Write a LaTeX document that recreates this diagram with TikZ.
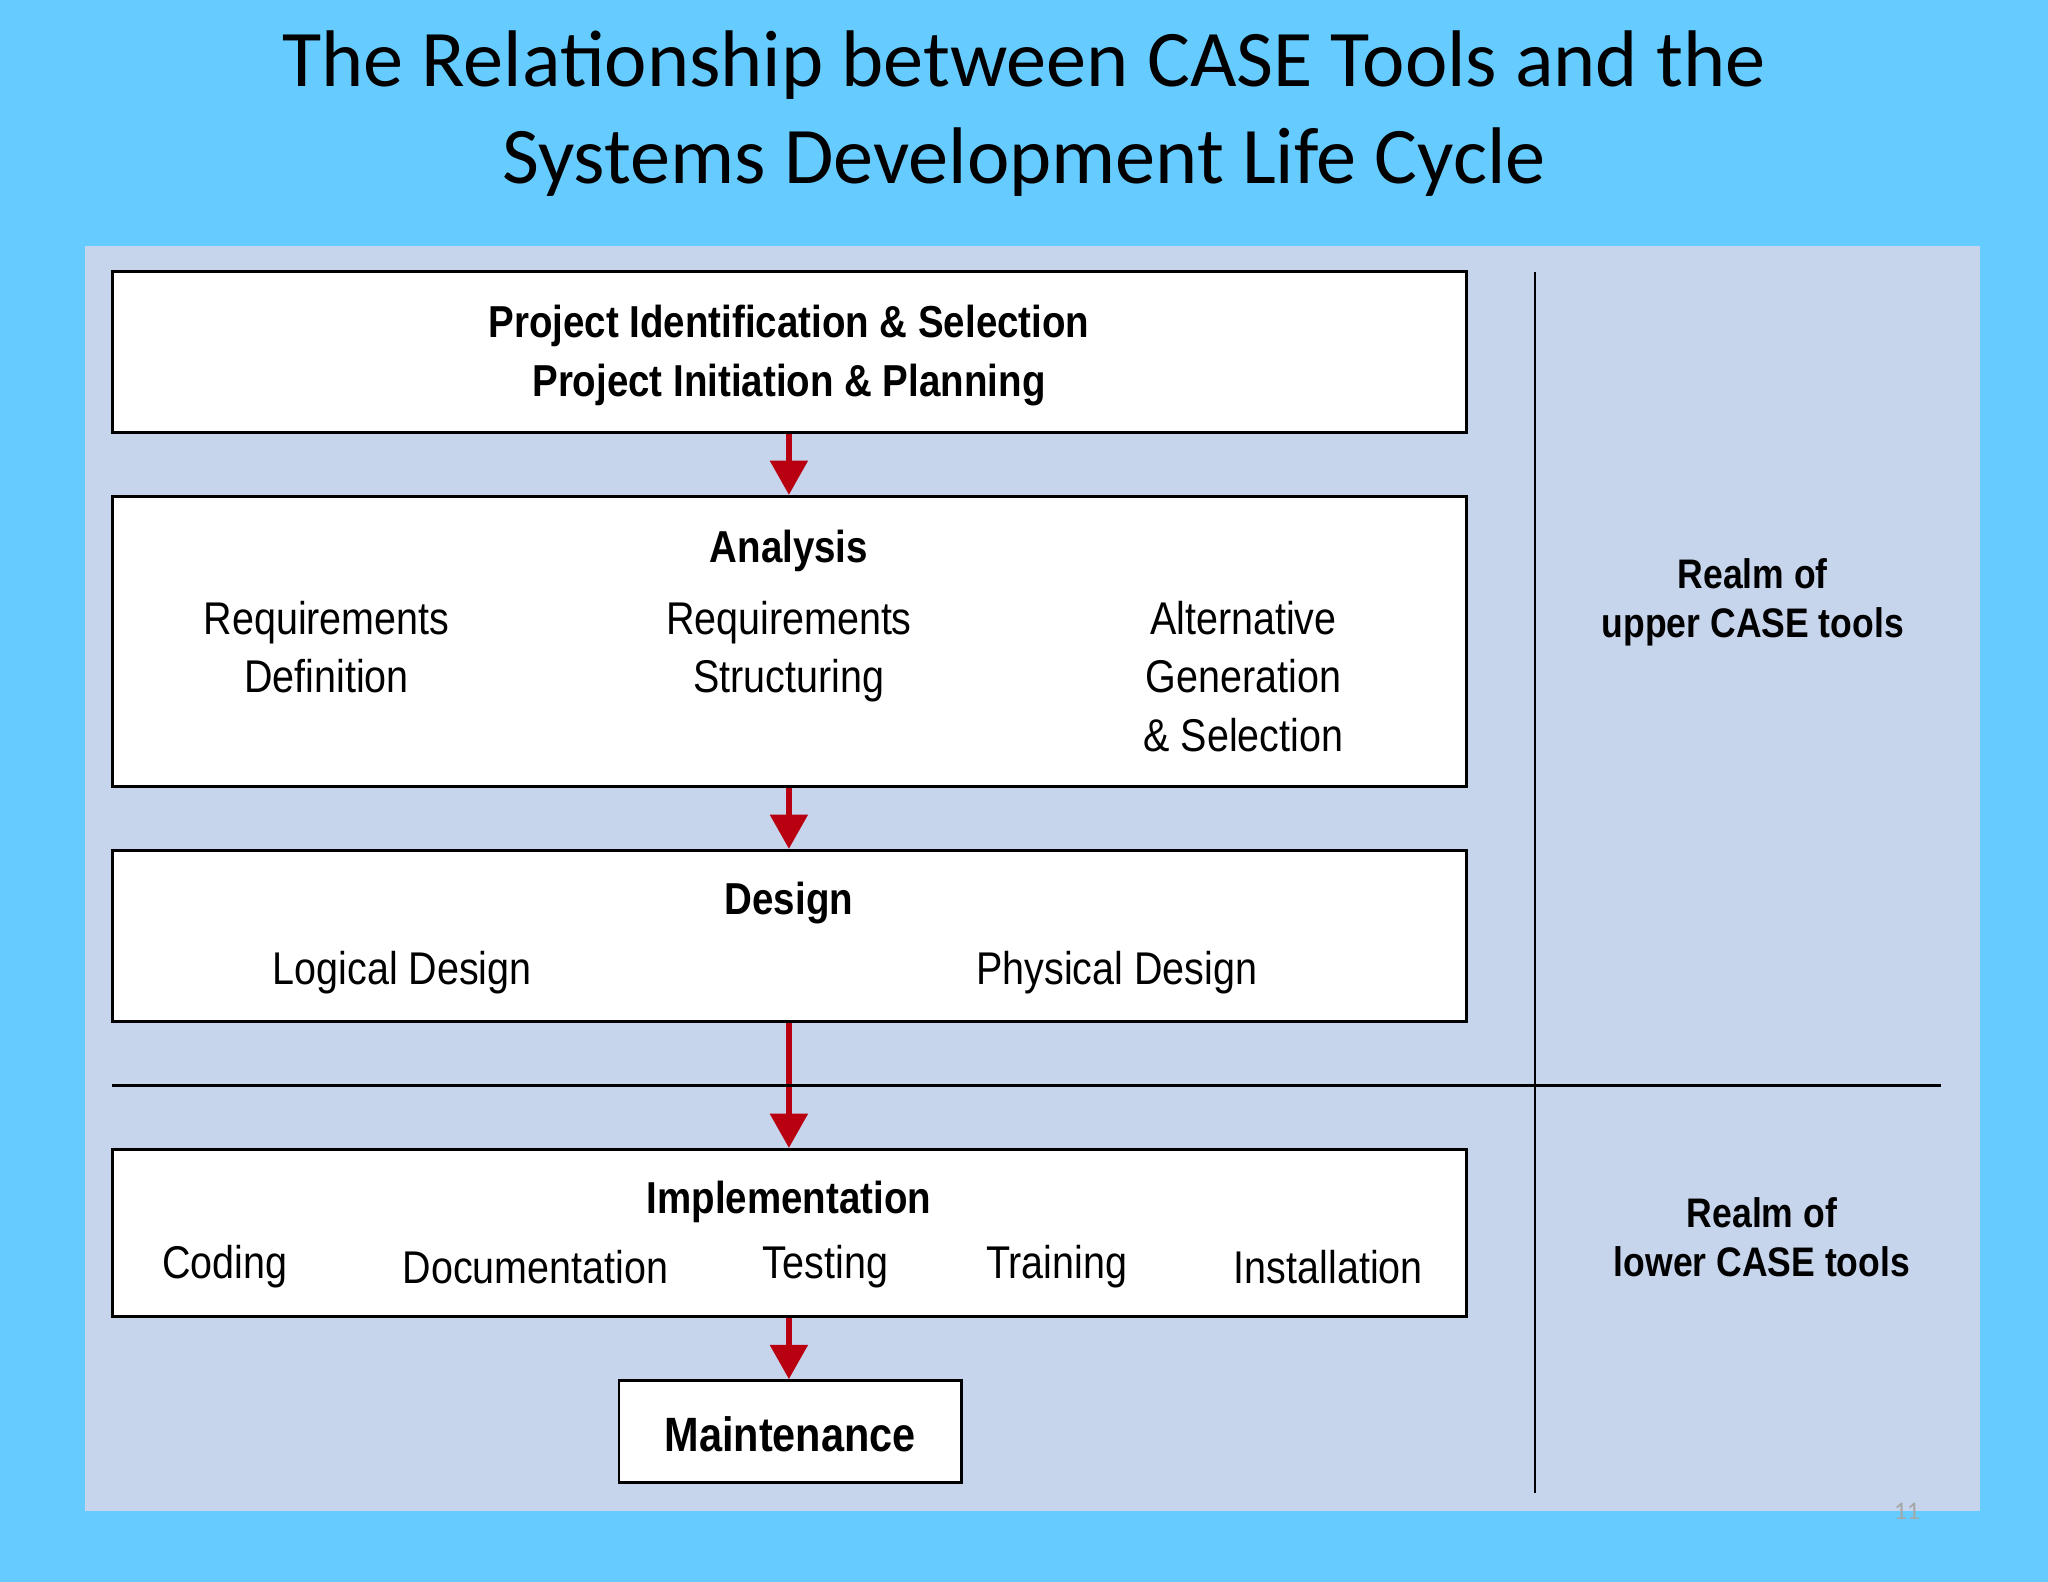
\documentclass[tikz,border=0pt]{standalone}
\usepackage{fontspec}
\setmainfont{Liberation Sans}[FakeStretch=0.86]
\newfontfamily\titlefont{Carlito}
\usetikzlibrary{arrows.meta, fit}
\definecolor{sky}{RGB}{102,204,255}
\definecolor{panel}{RGB}{198,212,236}
\definecolor{flow}{RGB}{185,0,16}
\tikzset{
  box/.style={draw, line width=1.2pt, fill=white, inner sep=0pt},
  txt/.style={font=\fontsize{20}{25.5}\selectfont, align=center},
  head/.style={font=\fontsize{19.5}{25.5}\selectfont\bfseries, align=center},
  flowarrow/.style={draw=flow, line width=2.8pt, -{Triangle[width=16pt,length=15pt]}},
  rule/.style={line width=1pt}
}
\begin{document}
\begin{tikzpicture}[x=0.02cm, y=-0.02cm]
  \useasboundingbox[fill=sky] (0,0) rectangle (1568,1211);
  \fill[panel] (65,188) rectangle (1516,1157);

  \node[font=\titlefont\fontsize{35}{42}\selectfont, align=center] (title) at (784,87)
    {The Relationship between CASE Tools and the\\Systems Development Life Cycle};

  % phase boxes
  \node[box, fit={(86,208)(1123,331)}] (p1) {};
  \node[box, fit={(86,380)(1123,602)}] (p2) {};
  \node[box, fit={(86,651)(1123,782)}] (p3) {};
  \node[box, fit={(86,880)(1123,1008)}] (p4) {};
  \node[box, fit={(474,1057)(736,1135)}] (p5) {};

  \node[head] (t1) at (604,272) {Project Identification \& Selection\\Project Initiation \& Planning};
  \node[head] (t2) at (604,422) {Analysis};
  \node[txt, anchor=north] (a1) at (250,454) {Requirements\\Definition};
  \node[txt, anchor=north] (a2) at (604,454) {Requirements\\Structuring};
  \node[txt, anchor=north] (a3) at (952,454) {Alternative\\Generation\\\& Selection};
  \node[head] (t3) at (604,691) {Design};
  \node[txt] (d1) at (308,745) {Logical Design};
  \node[txt] (d2) at (855,745) {Physical Design};
  \node[head] (t4) at (604,920) {Implementation};
  \node[txt] (i1) at (172,970) {Coding};
  \node[txt] (i2) at (410,970) {Documentation};
  \node[txt] (i3) at (632,970) {Testing};
  \node[txt] (i4) at (809,970) {Training};
  \node[txt] (i5) at (1017,970) {Installation};
  \node[head, font=\fontsize{21}{25}\selectfont\bfseries] (t5) at (605,1098) {Maintenance};

  % flow
  \draw[flowarrow] (p1.south -| t1) -- (p2.north -| t1);
  \draw[flowarrow] (p2.south -| t1) -- (p3.north -| t1);
  \draw[flowarrow] (p3.south -| t1) -- (p4.north -| t1);
  \draw[flowarrow] (p4.south -| t1) -- (p5.north -| t1);

  % realms
  \coordinate (hl) at (86,831);
  \coordinate (hr) at (1486,831);
  \coordinate (vt) at (1175,208);
  \coordinate (vb) at (1175,1143);
  \draw[rule] (hl) -- (hr);
  \draw[rule] (vt) -- (vb);
  \node[head, font=\fontsize{18}{21.5}\selectfont\bfseries] (u) at (1342,461) {Realm of\\upper CASE tools};
  \node[head, font=\fontsize{18}{21.5}\selectfont\bfseries] (l) at (1349,947) {Realm of\\lower CASE tools};
  \node[font=\titlefont\fontsize{11}{13}\selectfont, text=gray!70] (pg) at (1460,1157) {11};
\end{tikzpicture}
\end{document}
